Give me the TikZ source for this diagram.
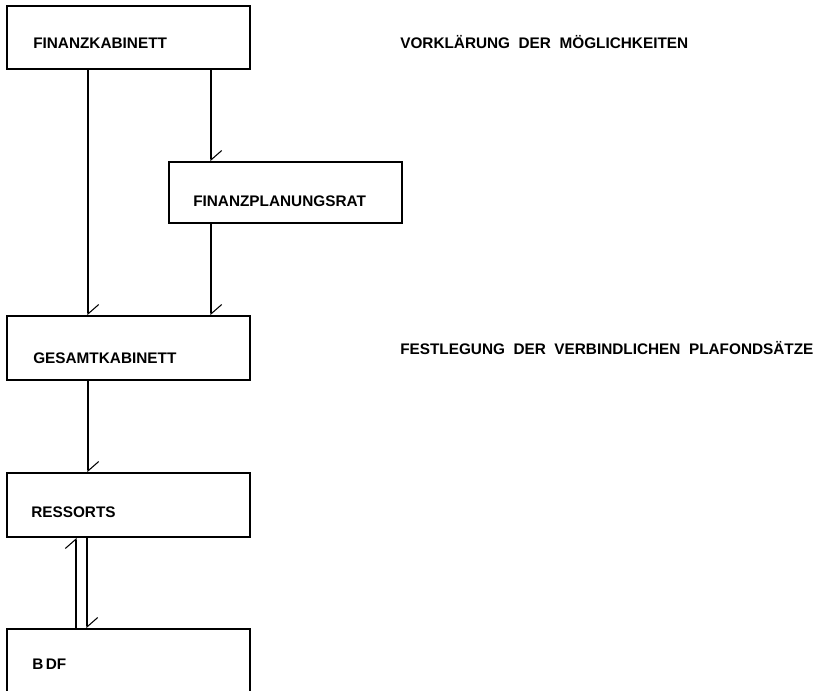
\documentclass[tikz,border=0pt]{standalone}
\usepackage{fontspec}
\setmainfont{Liberation Sans}
\usetikzlibrary{arrows.meta}
\newfontfamily\labfont{Liberation Sans}
\tikzset{
  box/.style={draw, line width=1.4pt, inner sep=0pt},
  lbl/.style={anchor=base west, inner sep=0pt, font=\labfont\bfseries\fontsize{11.5pt}{13pt}\selectfont},
  conn/.style={line width=0.8pt, -{Straight Barb[left, length=7pt, width=16pt, line width=0.8pt]}},
}
\begin{document}
\begin{tikzpicture}[x=0.75pt, y=-0.75pt]
\useasboundingbox (0,0) rectangle (816,690);
\clip (0,0) rectangle (816,690);
% boxes
\node[box, minimum width=243*0.75pt, minimum height=63*0.75pt] (fk) at (128.5,37.5) {};
\node[box, minimum width=233*0.75pt, minimum height=61*0.75pt] (fpr) at (285.5,192.5) {};
\node[box, minimum width=243*0.75pt, minimum height=64*0.75pt] (gk) at (128.5,348) {};
\node[box, minimum width=243*0.75pt, minimum height=64*0.75pt] (res) at (128.5,505) {};
\node[box, minimum width=243*0.75pt, minimum height=100*0.75pt] (bdf) at (128.5,679) {};
% labels
\node[lbl] (tfk) at (33,48) {FINANZKABINETT};
\node[lbl] (tfpr) at (193,206) {FINANZPLANUNGSRAT};
\node[lbl] (tgk) at (33,363) {GESAMTKABINETT};
\node[lbl] (tres) at (31,517) {RESSORTS};
\node[lbl] (tbdf) at (32,669) {B\,DF};
\node[lbl] (tv) at (400,48) {VORKLÄRUNG\ \ DER\ \ MÖGLICHKEITEN};
\node[lbl] (tf) at (400,354) {FESTLEGUNG\ \ DER\ \ VERBINDLICHEN\ \ PLAFONDSÄTZE};
% connector x positions
\coordinate (xa) at (88,0);
\coordinate (xb) at (211,0);
\coordinate (xc) at (76,0);
\coordinate (xd) at (87,0);
% connectors
\draw[conn] (fk.south -| xa) -- (gk.north -| xa);
\draw[conn] (fk.south -| xb) -- (fpr.north -| xb);
\draw[conn] (fpr.south -| xb) -- (gk.north -| xb);
\draw[conn] (gk.south -| xa) -- (res.north -| xa);
\draw[conn] (bdf.north -| xc) -- (res.south -| xc);
\draw[conn] (res.south -| xd) -- (bdf.north -| xd);
\end{tikzpicture}
\end{document}
